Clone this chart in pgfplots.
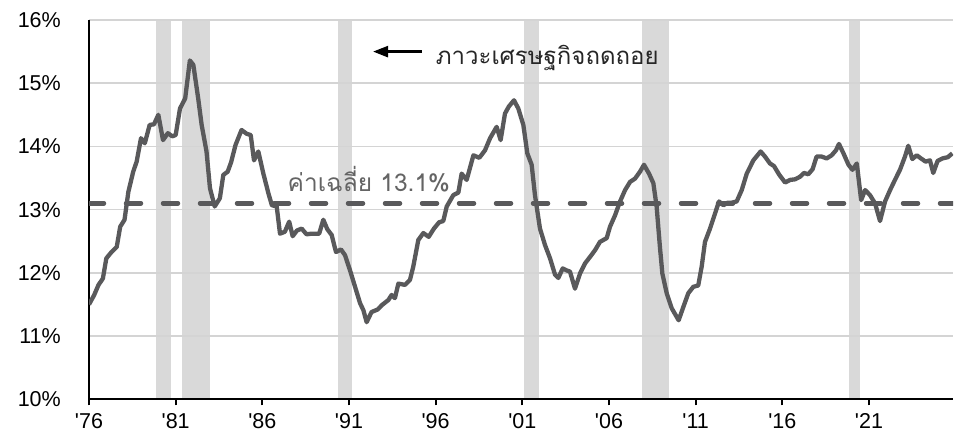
\documentclass[border=0pt]{standalone}
\usepackage{fontspec}
\setmainfont{Liberation Sans}
\newfontfamily\arial{Liberation Sans}
\newfontfamily\thaifont[Script=Thai]{Loma}
\usepackage{pgfplots}
\pgfplotsset{compat=1.18}
\usetikzlibrary{arrows.meta,calc}
\definecolor{linegray}{RGB}{89,89,91}
\definecolor{bandgray}{RGB}{217,217,217}
\definecolor{gridgray}{RGB}{212,212,212}
\definecolor{avggray}{RGB}{100,100,100}
\definecolor{txtdark}{RGB}{38,38,38}
\begin{document}
\begin{tikzpicture}
\begin{axis}[name=ax, set layers, scale only axis, width=864bp, height=379.3bp,
  xmin=1976, xmax=2025.85, ymin=10, ymax=16,
  axis x line*=bottom, axis y line*=left,
  axis line style={line width=2.2bp, black, -},
  xtick={1976,1981,1986,1991,1996,2001,2006,2011,2016,2021},
  xticklabels={'76,'81,'86,'91,'96,'01,'06,'11,'16,'21},
  ytick={10,11,12,13,14,15,16},
  yticklabels={10\%,11\%,12\%,13\%,14\%,15\%,16\%},
  yticklabel style={font=\arial\fontsize{21.5bp}{26bp}\selectfont, text=black, inner sep=0pt, anchor=east, xshift=-22bp},
  xticklabel style={font=\arial\fontsize{21.5bp}{26bp}\selectfont, text=black, inner sep=0pt, anchor=north, yshift=-8bp},
  ymajorgrids, grid style={gridgray, line width=1.5bp},
  tick align=outside, major tick length=6bp,
  xtick style={black, line width=2bp},
  ytick style={draw=none},
]
% recession bands
\addplot[on layer=axis background, fill=bandgray, draw=none] coordinates {(1979.88,16) (1980.71,16)} \closedcycle;
\addplot[on layer=axis background, fill=bandgray, draw=none] coordinates {(1981.38,16) (1982.96,16)} \closedcycle;
\addplot[on layer=axis background, fill=bandgray, draw=none] coordinates {(1990.39,16) (1991.20,16)} \closedcycle;
\addplot[on layer=axis background, fill=bandgray, draw=none] coordinates {(2001.12,16) (2001.97,16)} \closedcycle;
\addplot[on layer=axis background, fill=bandgray, draw=none] coordinates {(2007.89,16) (2009.45,16)} \closedcycle;
\addplot[on layer=axis background, fill=bandgray, draw=none] coordinates {(2019.87,16) (2020.47,16)} \closedcycle;
% average
\addplot[linegray, line width=4.5bp, dash pattern=on 15bp off 22bp, line cap=round] coordinates {(1976,13.1) (2025.85,13.1)};
% series
\addplot[linegray, line width=4.3bp, line join=round] coordinates {
(1976.0,11.5) (1976.3,11.65) (1976.55,11.81) (1976.8,11.91) (1977.0,12.23) (1977.3,12.33) (1977.6,12.41) (1977.8,12.73)
(1978.05,12.84) (1978.27,13.28) (1978.55,13.6) (1978.75,13.76) (1979.0,14.13) (1979.22,14.05) (1979.5,14.34) (1979.75,14.35)
(1980.0,14.5) (1980.27,14.1) (1980.55,14.21) (1980.8,14.16) (1981.0,14.18) (1981.25,14.6) (1981.55,14.76) (1981.82,15.36)
(1982.02,15.29) (1982.3,14.76) (1982.5,14.34) (1982.78,13.92) (1982.98,13.34) (1983.25,13.05) (1983.55,13.18) (1983.75,13.55)
(1984.0,13.6) (1984.2,13.75) (1984.45,14.02) (1984.8,14.26) (1985.1,14.2) (1985.33,14.18) (1985.52,13.78) (1985.77,13.92)
(1986.06,13.57) (1986.35,13.26) (1986.55,13.07) (1986.83,13.05) (1987.02,12.62) (1987.3,12.65) (1987.55,12.81) (1987.75,12.58)
(1988.0,12.67) (1988.27,12.7) (1988.55,12.61) (1988.85,12.62) (1989.28,12.62) (1989.52,12.84) (1989.75,12.69) (1990.0,12.6)
(1990.25,12.33) (1990.54,12.37) (1990.77,12.28) (1991.06,12.04) (1991.35,11.78) (1991.64,11.52) (1991.83,11.41) (1992.02,11.22)
(1992.3,11.38) (1992.65,11.42) (1992.9,11.49) (1993.27,11.57) (1993.46,11.65) (1993.65,11.6) (1993.85,11.83) (1994.23,11.81)
(1994.52,11.89) (1994.71,12.1) (1995.0,12.52) (1995.29,12.63) (1995.6,12.57) (1995.9,12.7) (1996.2,12.8) (1996.44,12.82)
(1996.64,13.05) (1997.02,13.23) (1997.31,13.27) (1997.5,13.57) (1997.79,13.47) (1998.18,13.86) (1998.52,13.82) (1998.85,13.94)
(1999.14,14.13) (1999.52,14.31) (1999.75,14.1) (2000.0,14.52) (2000.22,14.63) (2000.52,14.73) (2000.77,14.6) (2001.06,14.34)
(2001.29,13.89) (2001.54,13.71) (2001.73,13.23) (2002.02,12.7) (2002.31,12.44) (2002.6,12.23) (2002.89,11.97) (2003.08,11.92)
(2003.33,12.07) (2003.55,12.04) (2003.75,12.02) (2004.04,11.75) (2004.33,11.99) (2004.62,12.15) (2004.9,12.25) (2005.2,12.36)
(2005.48,12.49) (2005.87,12.55) (2006.06,12.73) (2006.35,12.91) (2006.64,13.13) (2006.93,13.31) (2007.22,13.44) (2007.5,13.49)
(2007.79,13.6) (2008.02,13.71) (2008.31,13.57) (2008.56,13.42) (2008.75,13.05) (2008.94,12.41) (2009.08,11.99) (2009.33,11.68)
(2009.62,11.44) (2010.02,11.25) (2010.29,11.46) (2010.58,11.68) (2010.87,11.78) (2011.15,11.8) (2011.35,12.1) (2011.54,12.49)
(2011.83,12.7) (2012.12,12.94) (2012.35,13.13) (2012.6,13.07) (2012.85,13.11) (2013.08,13.11) (2013.37,13.13) (2013.66,13.31)
(2013.95,13.57) (2014.33,13.78) (2014.75,13.92) (2015.0,13.84) (2015.29,13.73) (2015.52,13.69) (2015.83,13.55) (2016.16,13.43)
(2016.45,13.47) (2016.74,13.48) (2017.02,13.52) (2017.25,13.58) (2017.5,13.56) (2017.75,13.64) (2017.98,13.84) (2018.27,13.84)
(2018.56,13.81) (2018.85,13.86) (2019.1,13.94) (2019.27,14.04) (2019.53,13.89) (2019.82,13.71) (2020.05,13.63) (2020.3,13.73)
(2020.55,13.15) (2020.78,13.31) (2021.06,13.23) (2021.35,13.1) (2021.64,12.82) (2021.93,13.13) (2022.22,13.31) (2022.5,13.47)
(2022.79,13.63) (2023.08,13.84) (2023.27,14.01) (2023.5,13.8) (2023.76,13.86) (2024.0,13.81) (2024.27,13.76) (2024.52,13.78)
(2024.71,13.58) (2024.96,13.77) (2025.24,13.81) (2025.55,13.83) (2025.81,13.89)
};
% annotations
\draw[black, line width=2.5bp, -{Triangle[length=15bp,width=11bp]}] (axis cs:1995.21,15.5) -- (axis cs:1992.39,15.5);
\node[anchor=base west, inner sep=0pt, text=txtdark, font=\thaifont\fontsize{24bp}{28bp}\selectfont] at (axis cs:1996.0,15.29) {ภาวะเศรษฐกิจถดถอย};
\node[anchor=base west, inner sep=0pt, text=avggray, font=\thaifont\fontsize{24.5bp}{29bp}\selectfont] at (axis cs:1987.45,13.29) {ค่าเฉลี่ย 13.1\%};
\end{axis}
\path ($(ax.south west)+(-89bp,-38.7bp)$) rectangle ($(ax.north east)+(6bp,20bp)$);
\end{tikzpicture}
\end{document}
